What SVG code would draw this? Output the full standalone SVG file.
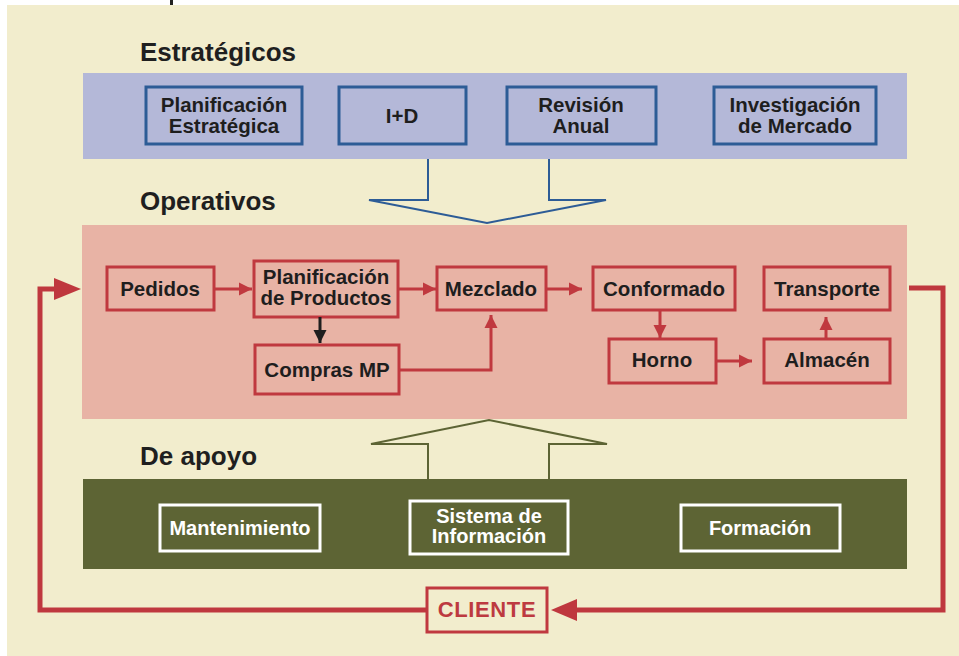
<svg xmlns="http://www.w3.org/2000/svg" width="959" height="656" viewBox="0 0 959 656">
  <defs>
    <style>
      .title { font-family: "Liberation Sans", Arial, sans-serif; font-weight: bold; font-size: 26px; fill: #1f1f1f; }
      .lbl { font-family: "Liberation Sans", Arial, sans-serif; font-weight: bold; font-size: 20.5px; fill: #1e1e1e; text-anchor: middle; }
      .lbl-w { font-family: "Liberation Sans", Arial, sans-serif; font-weight: bold; font-size: 20px; fill: #ffffff; text-anchor: middle; }
      .lbl-r { font-family: "Liberation Sans", Arial, sans-serif; font-weight: bold; font-size: 22px; fill: #bd3a40; text-anchor: middle; letter-spacing: 0.6px; }
      .box-b { fill: none; stroke: #2d5c96; stroke-width: 3; }
      .box-r { fill: none; stroke: #c0393f; stroke-width: 3; }
      .box-w { fill: none; stroke: #ffffff; stroke-width: 3; }
      .flow { fill: none; stroke: #c0393f; stroke-width: 3; }
      .loop { fill: none; stroke: #bf383e; stroke-width: 5; }
    </style>
    <marker id="ah-red" viewBox="0 0 10 10" refX="10" refY="5" markerWidth="4.4" markerHeight="4.4" orient="auto" markerUnits="strokeWidth">
      <path d="M0,0 L10,5 L0,10 Z" fill="#c0393f"/>
    </marker>
    <marker id="ah-black" viewBox="0 0 10 10" refX="10" refY="5" markerWidth="4.4" markerHeight="4.4" orient="auto" markerUnits="strokeWidth">
      <path d="M0,0 L10,5 L0,10 Z" fill="#1e1e1e"/>
    </marker>
  </defs>

  <!-- page -->
  <rect x="0" y="0" width="959" height="656" fill="#ffffff"/>
  <rect x="7" y="5" width="952" height="651" fill="#f2edcd"/>
  <rect x="170" y="0" width="3" height="5" fill="#222222"/>

  <!-- level bands -->
  <rect x="83" y="73" width="824" height="86" fill="#b4b8d8"/>
  <rect x="82" y="225" width="825" height="194" fill="#e8b3a5"/>
  <rect x="83" y="479" width="824" height="90" fill="#5d6434"/>

  <!-- section titles -->
  <text class="title" x="140" y="61">Estratégicos</text>
  <text class="title" x="140" y="210">Operativos</text>
  <text class="title" x="140" y="465">De apoyo</text>

  <!-- strategic nodes -->
  <g id="planificacion-estrategica">
    <rect class="box-b" x="146" y="87" width="156" height="57"/>
    <text class="lbl" x="224" y="112">Planificación</text>
    <text class="lbl" x="224" y="133">Estratégica</text>
  </g>
  <g id="i-d">
    <rect class="box-b" x="339" y="87" width="127" height="57"/>
    <text class="lbl" x="402" y="123">I+D</text>
  </g>
  <g id="revision-anual">
    <rect class="box-b" x="507" y="87" width="149" height="57"/>
    <text class="lbl" x="581" y="112">Revisión</text>
    <text class="lbl" x="581" y="133">Anual</text>
  </g>
  <g id="investigacion-mercado">
    <rect class="box-b" x="714" y="87" width="162" height="57"/>
    <text class="lbl" x="795" y="112">Investigación</text>
    <text class="lbl" x="795" y="133">de Mercado</text>
  </g>

  <!-- operative nodes -->
  <g id="pedidos">
    <rect class="box-r" x="107" y="267" width="107" height="43"/>
    <text class="lbl" x="160" y="296">Pedidos</text>
  </g>
  <g id="planificacion-productos">
    <rect class="box-r" x="254" y="261" width="144" height="56"/>
    <text class="lbl" x="326" y="284">Planificación</text>
    <text class="lbl" x="326" y="305">de Productos</text>
  </g>
  <g id="mezclado">
    <rect class="box-r" x="437" y="267" width="109" height="43"/>
    <text class="lbl" x="491" y="296">Mezclado</text>
  </g>
  <g id="conformado">
    <rect class="box-r" x="593" y="267" width="142" height="43"/>
    <text class="lbl" x="664" y="296">Conformado</text>
  </g>
  <g id="transporte">
    <rect class="box-r" x="764" y="267" width="126" height="43"/>
    <text class="lbl" x="827" y="296">Transporte</text>
  </g>
  <g id="compras-mp">
    <rect class="box-r" x="255" y="345" width="144" height="49"/>
    <text class="lbl" x="327" y="377">Compras MP</text>
  </g>
  <g id="horno">
    <rect class="box-r" x="609" y="339" width="107" height="44"/>
    <text class="lbl" x="662" y="367">Horno</text>
  </g>
  <g id="almacen">
    <rect class="box-r" x="764" y="339" width="126" height="44"/>
    <text class="lbl" x="827" y="367">Almacén</text>
  </g>

  <!-- support nodes -->
  <g id="mantenimiento">
    <rect class="box-w" x="160" y="505" width="160" height="46"/>
    <text class="lbl-w" x="240" y="535">Mantenimiento</text>
  </g>
  <g id="sistema-informacion">
    <rect class="box-w" x="410" y="501" width="158" height="53"/>
    <text class="lbl-w" x="489" y="523">Sistema de</text>
    <text class="lbl-w" x="489" y="543">Información</text>
  </g>
  <g id="formacion">
    <rect class="box-w" x="681" y="505" width="159" height="46"/>
    <text class="lbl-w" x="760" y="535">Formación</text>
  </g>

  <!-- customer -->
  <g id="cliente">
    <rect class="box-r" x="427" y="588" width="120" height="44"/>
    <text class="lbl-r" x="487" y="617">CLIENTE</text>
  </g>

  <!-- connectors -->
  <g id="connectors">
    <!-- strategic to operative block arrow -->
    <path d="M428,159 V200 H369 L487,223 L606,200 H549 V159" fill="none" stroke="#2d5c96" stroke-width="2"/>
    <!-- support to operative block arrow -->
    <path d="M428,479 V444 H371 L489,420 L607,444 H549 V479" fill="none" stroke="#5d6434" stroke-width="2"/>

    <!-- operative flow -->
    <line class="flow" x1="214" y1="289" x2="252" y2="289" marker-end="url(#ah-red)"/>
    <line class="flow" x1="398" y1="289" x2="436" y2="289" marker-end="url(#ah-red)"/>
    <line class="flow" x1="546" y1="289" x2="582" y2="289" marker-end="url(#ah-red)"/>
    <line x1="320" y1="317" x2="320" y2="343" fill="none" stroke="#1e1e1e" stroke-width="3" marker-end="url(#ah-black)"/>
    <path class="flow" d="M399,370 H491 V315" marker-end="url(#ah-red)"/>
    <line class="flow" x1="660" y1="310" x2="660" y2="338" marker-end="url(#ah-red)"/>
    <line class="flow" x1="716" y1="361" x2="752" y2="361" marker-end="url(#ah-red)"/>
    <line class="flow" x1="826" y1="339" x2="826" y2="317" marker-end="url(#ah-red)"/>

    <!-- customer loop -->
    <path class="loop" d="M909,288 H943 V610 H576"/>
    <path d="M551,610 L577,599 L577,621 Z" fill="#bf383e"/>
    <path class="loop" d="M427,610 H40 V289 H56"/>
    <path d="M81,289 L54,278 L54,300 Z" fill="#bf383e"/>
  </g>
</svg>
